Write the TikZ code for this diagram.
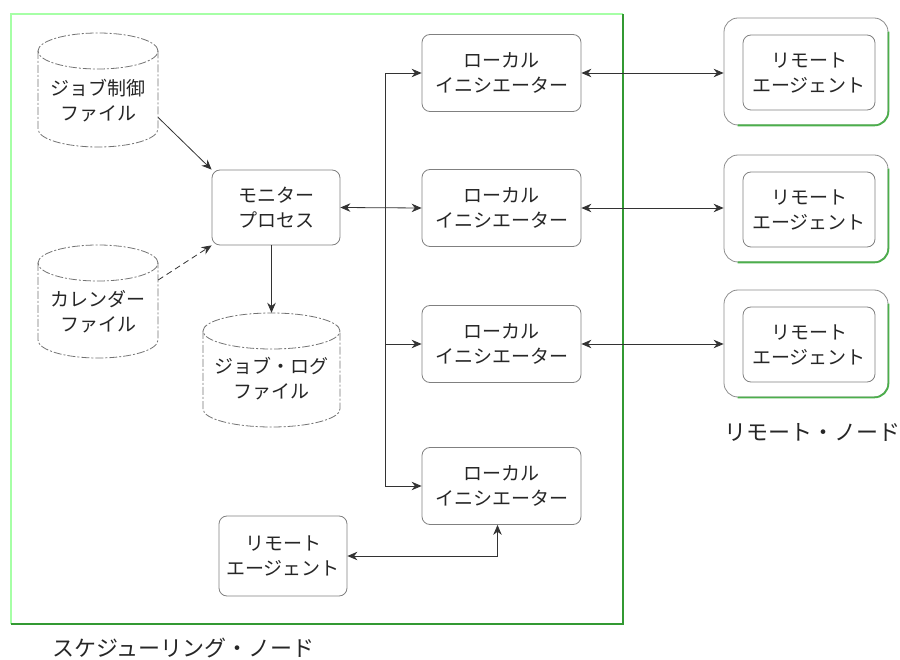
\documentclass[tikz,border=0pt]{standalone}
\usepackage{fontspec}
\setmainfont{Noto Sans CJK JP}
\usetikzlibrary{arrows.meta,calc}
\newcommand{\boxfont}{\fontsize{19pt}{25pt}\selectfont}
\newcommand{\lblfont}{\fontsize{22pt}{26pt}\selectfont}
\newcommand{\drawcyl}[5]{%
  \draw[cylline] ({#1},{#2}) ellipse [x radius=#4pt, y radius=#5pt];
  \draw[cylline] ({#1-#4},{#2}) -- ({#1-#4},{#3})
    .. controls ({#1-#4},{#3+0.552*#5}) and ({#1-0.552*#4},{#3+#5}) .. ({#1},{#3+#5})
    .. controls ({#1+0.552*#4},{#3+#5}) and ({#1+#4},{#3+0.552*#5}) .. ({#1+#4},{#3})
    -- ({#1+#4},{#2});
}
\tikzset{
  cylline/.style={draw=black!55, line width=0.8pt, dash pattern=on 8pt off 2pt on 2pt off 2pt},
  cyltext/.style={align=center, font=\boxfont, text=black!85, inner sep=0pt},
  box/.style={draw=black!50, line width=0.8pt, rounded corners=8pt, align=center,
     font=\boxfont, text=black!85, inner sep=0pt},
  rout/.style={draw=black!45, line width=0.8pt, rounded corners=14pt,
     minimum width=164pt, minimum height=107pt},
  rgreen/.style={draw=green!55!black!70, line width=1.8pt, rounded corners=14pt},
  conn/.style={draw=black!80, line width=0.8pt},
  tip/.tip={Stealth[length=10pt,width=8.5pt]},
  lbl/.style={font=\lblfont, text=black!85, inner sep=0pt},
}
\begin{document}
\begin{tikzpicture}[x=1pt,y=-1pt]
\useasboundingbox (0,0) rectangle (900,660);
% scheduling node frame
\draw[draw=green!35!white, line width=1.6pt] (11,624) -- (11,14) -- (623,14);
\draw[draw=green!50!black!80, line width=1.6pt] (623,14) -- (623,624) -- (11,624);

% cylinders
\drawcyl{98}{51}{129}{60}{18}
\node[cyltext, minimum width=120pt] (jc) at (98,100.5) {ジョブ制御\\ファイル};
\drawcyl{98}{263}{340}{60}{18}
\node[cyltext, minimum width=120pt] (cal) at (98,311.5) {カレンダー\\ファイル};
\drawcyl{271.5}{331}{409}{68.5}{18}
\node[cyltext, minimum width=137pt, minimum height=131pt] (log) at (271.5,378.5) {ジョブ・ログ\\ファイル};

% monitor
\node[box, minimum width=128pt, minimum height=75pt] (mon) at (276,207.5) {モニター\\プロセス};

% local initiators
\foreach \i/\y in {1/73,2/208,3/344,4/486}{
  \node[box, minimum width=159pt, minimum height=77pt] (li\i) at (501.5,\y) {ローカル\\イニシエーター};
}

% local remote agent
\node[box, minimum width=128pt, minimum height=80pt] (ra) at (283,556) {リモート\\エージェント};

% remote nodes
\foreach \i/\yo/\yi in {1/71.5/72.5,2/208.5/209.5,3/343.5/344.5}{
  \node[rout] (ro\i) at (806,\yo) {};
  \draw[rgreen] ([yshift=-14pt]ro\i.north east) -- (ro\i.south east) -- ([xshift=14pt]ro\i.south west);
  \node[box, minimum width=132pt, minimum height=75pt] (ri\i) at (809,\yi) {リモート\\エージェント};
}

% labels
\node[lbl, anchor=west] (lrn) at (724,432) {リモート・ノード};
\node[lbl, anchor=west] (lsn) at (52,648) {スケジューリング・ノード};

% connectors
\draw[conn, -{tip}] ([yshift=-17pt]jc.east) -- (mon.north west);
\draw[conn, dash pattern=on 6pt off 4pt, -{tip}] ([yshift=31.5pt]cal.east) -- (mon.south west);
\draw[conn, -{tip}] (mon.south -| log.north) -- (log.north);
\draw[conn, {tip}-{tip}] (mon.east) -- (li2.west);
\coordinate (bus) at (385,208);
\draw[conn, -{tip}] (bus) |- (li1.west);
\draw[conn, -{tip}] (bus) |- (li3.west);
\draw[conn, -{tip}] (bus) |- (li4.west);
\foreach \i in {1,2,3}{
  \draw[conn, {tip}-{tip}] (li\i.east) -- (li\i.east -| ro\i.west);
}
\draw[conn, {tip}-{tip}] (ra.east) -| ([xshift=-4pt]li4.south);
\end{tikzpicture}
\end{document}
